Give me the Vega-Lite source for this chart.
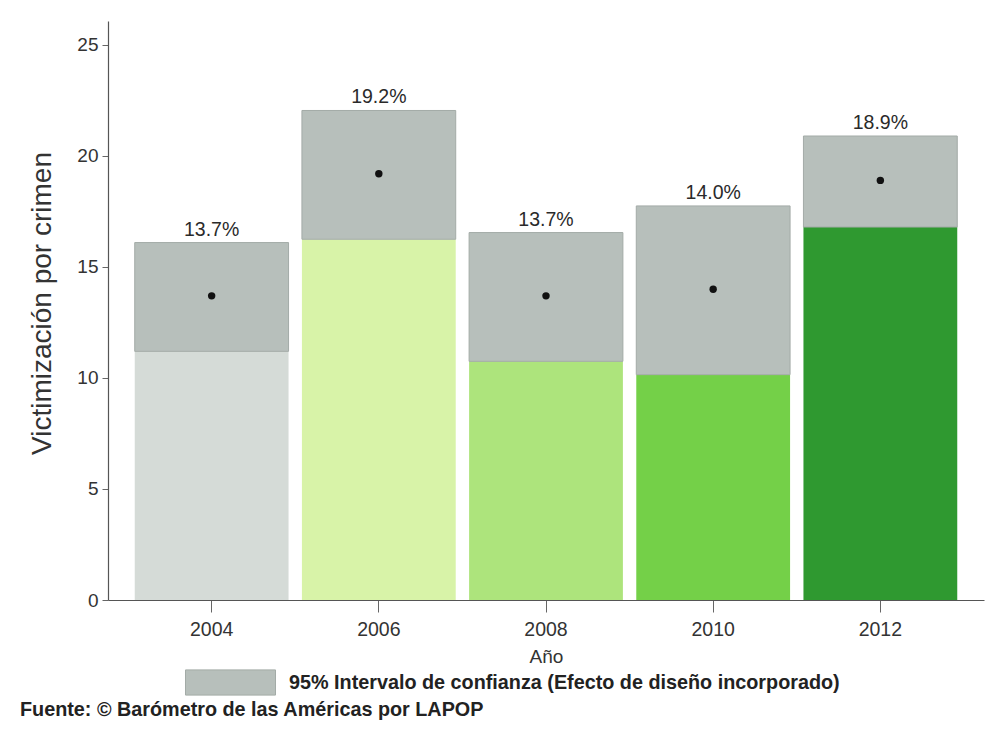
{
  "$schema": "https://vega.github.io/schema/vega-lite/v6.json",
  "autosize": {"type": "none"},
  "width": 876,
  "height": 579,
  "padding": {"left": 108, "top": 21, "right": 3, "bottom": 138},
  "background": "#ffffff",
  "config": {
    "view": {"stroke": null},
    "font": "Liberation Sans",
    "axis": {"grid": false, "domainColor": "#555", "tickColor": "#666", "labelColor": "#333", "titleColor": "#333", "labelFont": "Liberation Sans", "titleFont": "Liberation Sans", "titleFontWeight": "normal"}
  },
  "title": {
    "text": "Fuente: © Barómetro de las Américas por LAPOP",
    "orient": "bottom",
    "anchor": "start",
    "frame": "group",
    "dx": -88,
    "offset": 2,
    "fontSize": 19.8,
    "fontWeight": "bold",
    "color": "#222"
  },
  "data": {
    "values": [
      {"year": "2004", "value": 13.7, "lower": 11.2, "upper": 16.1, "label": "13.7%", "ci": "95% Intervalo de confianza (Efecto de diseño incorporado)"},
      {"year": "2006", "value": 19.2, "lower": 16.25, "upper": 22.05, "label": "19.2%", "ci": "95% Intervalo de confianza (Efecto de diseño incorporado)"},
      {"year": "2008", "value": 13.7, "lower": 10.75, "upper": 16.55, "label": "13.7%", "ci": "95% Intervalo de confianza (Efecto de diseño incorporado)"},
      {"year": "2010", "value": 14.0, "lower": 10.15, "upper": 17.75, "label": "14.0%", "ci": "95% Intervalo de confianza (Efecto de diseño incorporado)"},
      {"year": "2012", "value": 18.9, "lower": 16.8, "upper": 20.9, "label": "18.9%", "ci": "95% Intervalo de confianza (Efecto de diseño incorporado)"}
    ]
  },
  "encoding": {
    "x": {
      "field": "year", "type": "nominal",
      "scale": {"paddingInner": 0.08, "paddingOuter": 0.16},
      "axis": {"title": "Año", "labelAngle": 0, "labelFontSize": 19.5, "titleFontSize": 19, "tickSize": 12, "labelPadding": 8, "titlePadding": 9, "domainWidth": 1.2}
    }
  },
  "layer": [
    {
      "mark": {"type": "bar"},
      "encoding": {
        "y": {
          "field": "lower", "type": "quantitative",
          "scale": {"domain": [0, 26.08], "nice": false},
          "axis": {"title": "Victimización por crimen", "values": [0, 5, 10, 15, 20, 25], "labelFontSize": 19, "titleFontSize": 28, "tickSize": 6, "labelPadding": 4, "titlePadding": 20, "titleY": 282, "domainWidth": 1.2}
        },
        "color": {
          "field": "year", "type": "nominal",
          "scale": {"range": ["#d5dbd7", "#d8f3a8", "#ade47c", "#74d048", "#2f9930"]},
          "legend": null
        }
      }
    },
    {
      "mark": {"type": "bar", "stroke": "#a3aba7", "strokeWidth": 1},
      "encoding": {
        "y": {"field": "lower", "type": "quantitative"},
        "y2": {"field": "upper"},
        "fill": {
          "field": "ci", "type": "nominal",
          "scale": {"range": ["#b7bfbb"]},
          "legend": {
            "title": null,
            "orient": "none",
            "legendX": 77,
            "legendY": 616,
            "symbolType": "M-1,-0.28H1V0.28H-1Z",
            "symbolSize": 8100,
            "symbolStrokeColor": "#a3aba7",
            "symbolStrokeWidth": 1,
            "labelFontSize": 19.8,
            "labelFontWeight": "bold",
            "labelColor": "#222",
            "labelOffset": 13,
            "labelLimit": 700,
            "padding": 0
          }
        }
      }
    },
    {
      "mark": {"type": "point", "filled": true, "color": "#111", "size": 55, "opacity": 1},
      "encoding": {
        "y": {"field": "value", "type": "quantitative"}
      }
    },
    {
      "mark": {"type": "text", "dy": -13, "fontSize": 19.5, "color": "#2a2a2a"},
      "encoding": {
        "y": {"field": "upper", "type": "quantitative"},
        "text": {"field": "label"}
      }
    }
  ]
}
